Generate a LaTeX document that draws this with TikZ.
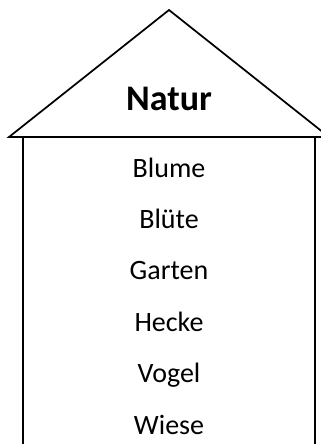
\documentclass[tikz,border=0pt]{standalone}
\usepackage{fontspec}
\setmainfont{Carlito}
\usepackage{tikz}
\usetikzlibrary{positioning}

\begin{document}
\begin{tikzpicture}[x=0.75pt, y=-0.75pt, wall/.style = {draw, line width=1.3pt}, title/.style = {font=\fontsize{27}{30}\selectfont\bfseries}, word/.style = {font=\fontsize{21}{24}\selectfont, text height=0.75em, text depth=0.25em, inner sep=0pt}, node distance = 38.6pt]
					\useasboundingbox (0,0) rectangle (321,444);
					\clip (0,0) rectangle (321,444);
					\coordinate (apex) at (169,10);
					\coordinate (eaveL) at (9,137);
					\coordinate (eaveR) at (329,137);
					\coordinate (baseL) at (23,137);
					\coordinate (baseR) at (315,137);
					\coordinate (footL) at (23,450);
					\coordinate (footR) at (315,450);
					
					\node[title,anchor=base] (natur) at (169,110) {Natur};
					\node[word,anchor=base] (blume) at (169,177) {Blume};
					\node[word,below of=blume] (bluete) {Blüte};
					\node[word,below of=bluete] (garten) {Garten};
					\node[word,below of=garten] (hecke) {Hecke};
					\node[word,below of=hecke] (vogel) {Vogel};
					\node[word,below of=vogel] (wiese) {Wiese};
					
					\path[wall,line join=miter] (eaveL) -- (apex) -- (eaveR) -- cycle;
					\path[wall] (baseL) -- (footL);
					\path[wall] (baseR) -- (footR);
				\end{tikzpicture}
\end{document}
